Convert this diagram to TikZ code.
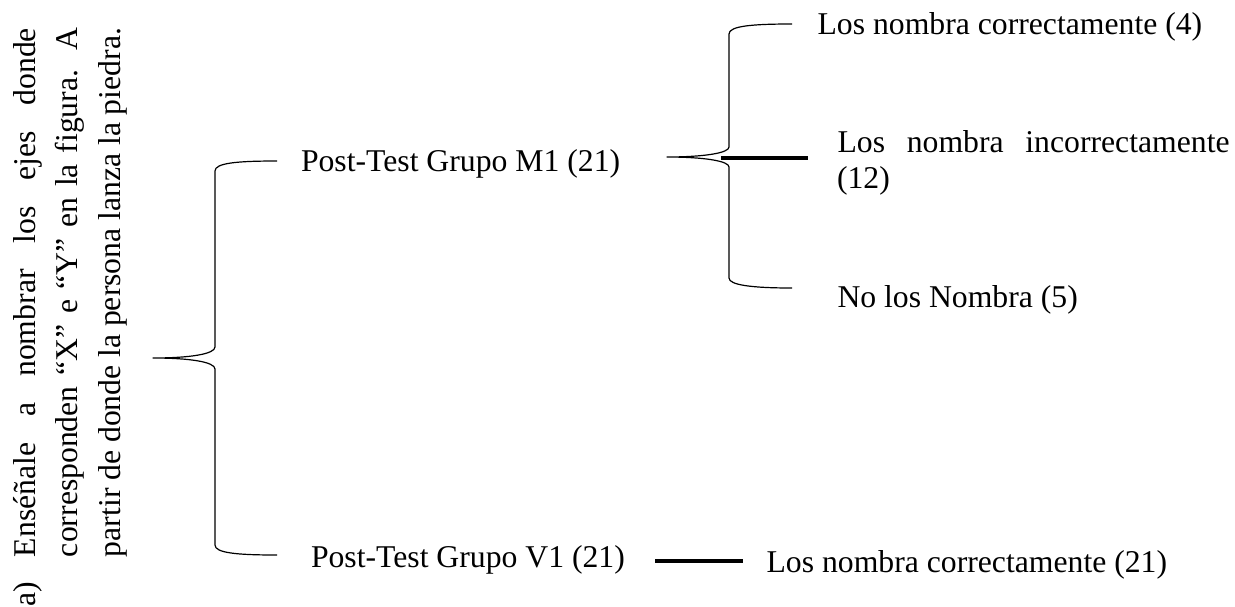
\documentclass[tikz,border=0pt]{standalone}
\usepackage{fontspec}
\setmainfont{Liberation Serif}
\begin{document}
\begin{tikzpicture}[x=1pt,y=-1pt,
  lbl/.style={inner sep=0pt, outer sep=0pt, font=\fontsize{31.7}{38}\selectfont},
  bracepath/.style={line width=1.2pt, line join=round},
  thickline/.style={line width=4pt}]
\useasboundingbox (0,0) rectangle (1235,606);

% left rotated question
\node[lbl, rotate=90, anchor=base west] (qa) at (35,606.5) {a)};
\node[lbl, rotate=90, anchor=base west] (q1) at (35,557) {\makebox[529pt][s]{Enséñale a nombrar los ejes donde}};
\node[lbl, rotate=90, anchor=base west] (q2) at (77.5,557) {\makebox[529pt][s]{corresponden “X” e “Y” en la figura. A}};
\node[lbl, rotate=90, anchor=base west] (q3) at (120,557) {\makebox[529pt][s]{partir de donde la persona lanza la piedra.}};

% groups
\node[lbl, anchor=base west] (m1) at (301,171) {Post-Test Grupo M1 (21)};
\node[lbl, anchor=base west] (v1) at (311,567) {Post-Test Grupo V1 (21)};

% outcomes
\node[lbl, anchor=base west] (c4) at (817.6,34) {Los nombra correctamente (4)};
\node[lbl, anchor=base west] (inc) at (837.6,152) {\makebox[392pt][s]{Los nombra incorrectamente}};
\node[lbl, anchor=base west] (inc2) at (837,188) {(12)};
\node[lbl, anchor=base west] (no5) at (837.5,307) {No los Nombra (5)};
\node[lbl, anchor=base west] (c21) at (766.6,572) {Los nombra correctamente (21)};

% named points of the braces
\coordinate (Ltip) at (153,358);
\coordinate (Ltop) at (277,161);
\coordinate (Lbot) at (277,555);
\coordinate (Rtip) at (667,157);
\coordinate (Rtop) at (792,24);
\coordinate (Rbot) at (792,288);
\coordinate (RmidA) at (721,158);
\coordinate (Rmid) at (808,158);
\coordinate (VA) at (655,561);
\coordinate (VB) at (743,561);

% left brace
\draw[bracepath] (Ltop) .. controls (237,161) and (215,163) .. (215,171)
  -- (215,347) .. controls (215,354) and (190,358) .. (Ltip)
  .. controls (190,358) and (215,362) .. (215,369)
  -- (215,545) .. controls (215,553) and (237,555) .. (Lbot);

% right brace
\draw[bracepath] (Rtop) .. controls (752,24) and (729,26) .. (729,34)
  -- (729,147) .. controls (729,153) and (704,157) .. (Rtip)
  .. controls (704,157) and (729,161) .. (729,167)
  -- (729,278) .. controls (729,285) and (752,288) .. (Rbot);

% thick connectors
\draw[thickline] (RmidA) -- (Rmid);
\draw[thickline] (VA) -- (VB);
\end{tikzpicture}
\end{document}
